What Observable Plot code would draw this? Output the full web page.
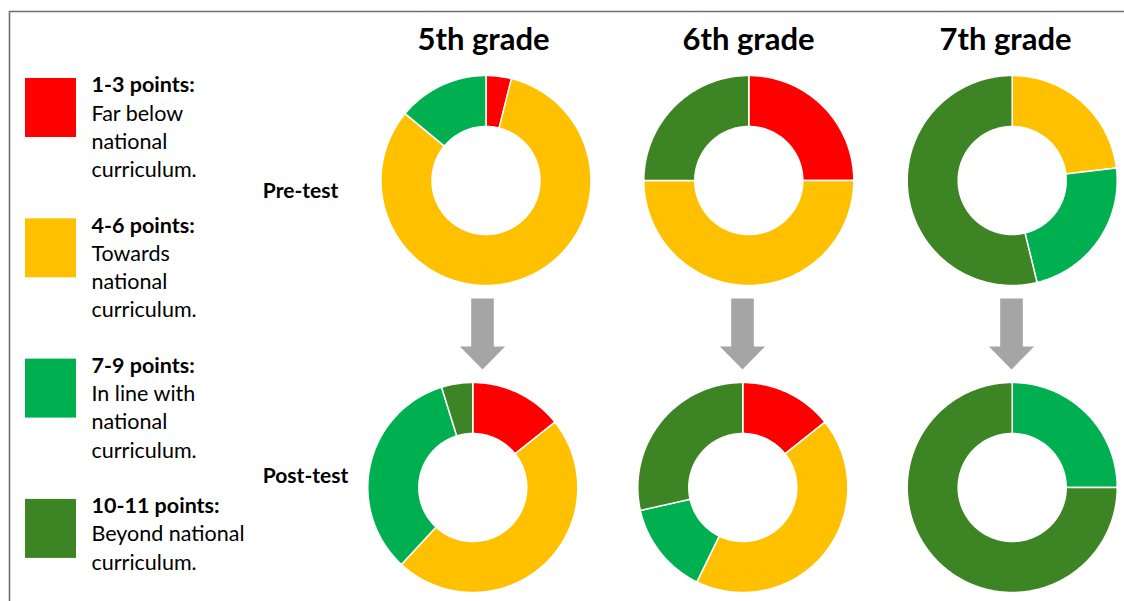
<!DOCTYPE html>
<html>
<head>
<meta charset="utf-8">
<script src="https://cdn.jsdelivr.net/npm/d3@7"></script>
<script src="https://cdn.jsdelivr.net/npm/@observablehq/plot@0.6"></script>
<style>
  html, body { margin: 0; padding: 0; background: #fff; }
  #chart svg { display: block; }
</style>
</head>
<body>
<div id="chart"></div>
<script>
// ---------- data ----------
const grades = ["5th grade", "6th grade", "7th grade"];
const tests = ["Pre-test", "Post-test"];
const categories = ["1-3 points", "4-6 points", "7-9 points", "10-11 points"];
const categoryLabels = ["1-3 points:", "4-6 points:", "7-9 points:", "10-11 points:"];
const categoryDescriptions = [
  ["Far below", "national", "curriculum."],
  ["Towards", "national", "curriculum."],
  ["In line with", "national", "curriculum."],
  ["Beyond national", "curriculum."]
];
const categoryColors = ["#FF0000", "#FFC000", "#00B050", "#3D8424"];
// share (%) of pupils per category, in category order
const pre5 = [3.9, 82.1, 14.0, 0];
const pre6 = [25, 50, 0, 25];
const pre7 = [0, 23.1, 23.1, 53.8];
const post5 = [14.3, 47.6, 33.3, 4.8];
const post6 = [14.3, 42.9, 14.3, 28.5];
const post7 = [0, 0, 25, 75];

// ---------- layout ----------
const W = 1124, H = 601;
const centersX = {"Pre-test": [485.5, 748.3, 1011.7], "Post-test": [472.3, 742.3, 1011.7]};
const centersY = {"Pre-test": 180, "Post-test": 487};
const rOuter = 105, rInner = 54;
const titleX = [483, 748, 1005], titleY = 40;
const rowLabelX = {"Pre-test": 300, "Post-test": 305};
const rowLabelY = {"Pre-test": 191, "Post-test": 476};
const arrowX = [482, 742, 1011];
const arrowGeom = {top: 298, headY: 346, tip: 369, shaftHalf: 11.3, headHalf: 22.6};
const legendTop = 78, legendStep = 140.3, swatchW = 51, swatchH = 59, swatchX = 25;
const legendTextX = 91, legendLine = 28.2, legendTextOffset = 7;
const fontFamily = "Lato, 'Open Sans', sans-serif";

const series = {
  "Pre-test": [pre5, pre6, pre7],
  "Post-test": [post5, post6, post7]
};

// ---------- build slice polygons from the data ----------
const pie = d3.pie().sort(null).value(d => d);
const slicePts = [];
for (const t of tests) {
  series[t].forEach((vals, gi) => {
    const cx = centersX[t][gi], cy = centersY[t];
    pie(vals).forEach((a, ci) => {
      if (a.endAngle - a.startAngle <= 0) return;
      const key = `${t}-${gi}-${ci}`;
      const n = Math.max(4, Math.ceil((a.endAngle - a.startAngle) / (Math.PI / 180)));
      for (let i = 0; i <= n; i++) {
        const ang = a.startAngle + (a.endAngle - a.startAngle) * i / n;
        slicePts.push({key, cat: categories[ci], x: cx + rOuter * Math.sin(ang), y: cy - rOuter * Math.cos(ang)});
      }
      for (let i = n; i >= 0; i--) {
        const ang = a.startAngle + (a.endAngle - a.startAngle) * i / n;
        slicePts.push({key, cat: categories[ci], x: cx + rInner * Math.sin(ang), y: cy - rInner * Math.cos(ang)});
      }
    });
  });
}

// arrows
const arrowPts = [];
arrowX.forEach((ax, i) => {
  const g = arrowGeom;
  [[ax - g.shaftHalf, g.top], [ax + g.shaftHalf, g.top], [ax + g.shaftHalf, g.headY],
   [ax + g.headHalf, g.headY], [ax, g.tip], [ax - g.headHalf, g.headY],
   [ax - g.shaftHalf, g.headY]].forEach(([x, y]) => arrowPts.push({key: i, x, y}));
});

// legend
const legendSwatches = categories.map((c, i) => ({
  cat: c, x1: swatchX, x2: swatchX + swatchW,
  y1: legendTop + i * legendStep, y2: legendTop + i * legendStep + swatchH
}));
const legendBold = categoryLabels.map((l, i) => ({text: l, x: legendTextX, y: legendTop + i * legendStep + legendTextOffset}));
const legendRegular = [];
categoryDescriptions.forEach((lines, i) => lines.forEach((l, j) => legendRegular.push({
  text: l, x: legendTextX, y: legendTop + i * legendStep + legendTextOffset + (j + 1) * legendLine
})));

const titles = grades.map((g, i) => ({text: g, x: titleX[i], y: titleY}));
const rowLabels = tests.map(t => ({text: t, x: rowLabelX[t], y: rowLabelY[t]}));

const chart = Plot.plot({
  width: W, height: H,
  margin: 0,
  x: {domain: [0, W], range: [0, W], axis: null},
  y: {domain: [0, H], range: [0, H], axis: null},
  color: {domain: categories, range: categoryColors},
  style: {fontFamily, background: "#fff"},
  marks: [
    Plot.ruleY([11], {x1: 9, x2: W, stroke: "#6f6f6f", strokeWidth: 1.6}),
    Plot.ruleX([9], {y1: 11, y2: H, stroke: "#6f6f6f", strokeWidth: 1.6}),
    Plot.line(slicePts, {x: "x", y: "y", z: "key", fill: "cat", stroke: "white", strokeWidth: 1.5, curve: "linear-closed"}),
    Plot.line(arrowPts, {x: "x", y: "y", z: "key", fill: "#A5A5A5", stroke: "none", curve: "linear-closed"}),
    Plot.rect(legendSwatches, {x1: "x1", x2: "x2", y1: "y1", y2: "y2", fill: "cat"}),
    Plot.text(legendBold, {x: "x", y: "y", text: "text", textAnchor: "start", lineAnchor: "middle", fontWeight: "bold", fontSize: 21.5, fill: "black"}),
    Plot.text(legendRegular, {x: "x", y: "y", text: "text", textAnchor: "start", lineAnchor: "middle", fontSize: 21.5, fill: "black"}),
    Plot.text(titles, {x: "x", y: "y", text: "text", textAnchor: "middle", lineAnchor: "middle", fontWeight: "bold", fontSize: 31, fill: "black"}),
    Plot.text(rowLabels, {x: "x", y: "y", text: "text", textAnchor: "middle", lineAnchor: "middle", fontWeight: "bold", fontSize: 21, fill: "black"})
  ]
});
document.getElementById("chart").appendChild(chart);
</script>
</body>
</html>
